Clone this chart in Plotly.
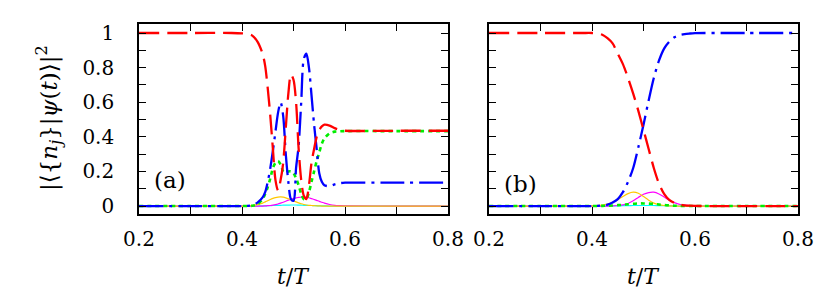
import plotly.graph_objects as go

# ---------------- data: panel (a) ----------------
t_a = [0.20, 0.30, 0.38, 0.40, 0.41, 0.42, 0.43, 0.44,
       0.445, 0.45, 0.455, 0.46, 0.465, 0.47, 0.475, 0.48, 0.485, 0.49,
       0.495, 0.50, 0.505, 0.51, 0.515, 0.52, 0.525, 0.53, 0.535, 0.54,
       0.545, 0.55, 0.555, 0.56,
       0.57, 0.58, 0.59, 0.60, 0.70, 0.80]
red_a = [1.0, 1.0, 1.0, 0.998, 0.995, 0.985, 0.95, 0.88,
         0.81, 0.68, 0.52, 0.33, 0.15, 0.09, 0.15, 0.25, 0.45, 0.65,
         0.76, 0.73, 0.60, 0.33, 0.15, 0.06, 0.04, 0.12, 0.25, 0.33,
         0.40, 0.44, 0.46, 0.47,
         0.465, 0.45, 0.44, 0.435, 0.435, 0.435]
blue_a = [0.0, 0.0, 0.0, 0.0, 0.001, 0.005, 0.02, 0.05,
          0.08, 0.14, 0.22, 0.32, 0.43, 0.54, 0.60, 0.52, 0.30, 0.14,
          0.04, 0.03, 0.22, 0.35, 0.60, 0.85, 0.88, 0.80, 0.64, 0.47,
          0.33, 0.19, 0.14, 0.12,
          0.115, 0.125, 0.132, 0.135, 0.135, 0.135]
green_a = [0.0, 0.0, 0.0, 0.0, 0.0, 0.002, 0.01, 0.04,
           0.07, 0.11, 0.16, 0.22, 0.25, 0.26, 0.24, 0.20, 0.19, 0.20,
           0.20, 0.19, 0.16, 0.12, 0.07, 0.04, 0.04, 0.08, 0.14, 0.20,
           0.26, 0.31, 0.36, 0.39,
           0.42, 0.43, 0.432, 0.433, 0.433, 0.433]
yellow_a = [0.0, 0.0, 0.0, 0.0, 0.001, 0.003, 0.008, 0.017,
            0.024, 0.031, 0.038, 0.044, 0.049, 0.052, 0.053, 0.051, 0.047, 0.042,
            0.036, 0.030, 0.024, 0.018, 0.013, 0.009, 0.006, 0.004, 0.003, 0.002,
            0.001, 0.001, 0.0, 0.0,
            0.0, 0.0, 0.0, 0.0, 0.0, 0.0]
magenta_a = [0.0, 0.0, 0.0, 0.0, 0.0, 0.0, 0.0, 0.0,
             0.001, 0.002, 0.003, 0.005, 0.008, 0.012, 0.017, 0.022, 0.028, 0.034,
             0.039, 0.044, 0.047, 0.050, 0.051, 0.052, 0.050, 0.048, 0.043, 0.038,
             0.033, 0.027, 0.022, 0.017,
             0.009, 0.004, 0.002, 0.001, 0.0, 0.0]
cyan_a = [0.0, 0.0, 0.0, 0.0, 0.0, 0.0, 0.0, 0.001,
          0.001, 0.002, 0.002, 0.003, 0.003, 0.004, 0.004, 0.005, 0.005, 0.005,
          0.006, 0.006, 0.006, 0.005, 0.005, 0.004, 0.004, 0.003, 0.003, 0.002,
          0.002, 0.001, 0.001, 0.001,
          0.0, 0.0, 0.0, 0.0, 0.0, 0.0]

# ---------------- data: panel (b) ----------------
t_b = [0.20, 0.30, 0.38, 0.40, 0.41, 0.42, 0.43, 0.44, 0.45, 0.46,
       0.47, 0.48, 0.49, 0.50, 0.51, 0.52, 0.53, 0.54, 0.55, 0.56,
       0.57, 0.58, 0.59, 0.60, 0.62, 0.65, 0.70, 0.80]
red_b = [1.0, 1.0, 1.0, 1.0, 0.998, 0.99, 0.97, 0.94, 0.88, 0.82,
         0.74, 0.65, 0.55, 0.44, 0.33, 0.22, 0.13, 0.07, 0.035, 0.018,
         0.008, 0.004, 0.002, 0.001, 0.0, 0.0, 0.0, 0.0]
blue_b = [0.0, 0.0, 0.0, 0.0, 0.001, 0.003, 0.008, 0.02, 0.04, 0.08,
          0.14, 0.22, 0.34, 0.47, 0.61, 0.74, 0.84, 0.91, 0.95, 0.975,
          0.988, 0.994, 0.997, 0.999, 1.0, 1.0, 1.0, 1.0]
yellow_b = [0.0, 0.0, 0.0, 0.001, 0.003, 0.006, 0.012, 0.022, 0.036, 0.055,
            0.072, 0.080, 0.074, 0.055, 0.034, 0.017, 0.008, 0.003, 0.001, 0.0,
            0.0, 0.0, 0.0, 0.0, 0.0, 0.0, 0.0, 0.0]
magenta_b = [0.0, 0.0, 0.0, 0.0, 0.0, 0.0, 0.0, 0.001, 0.003, 0.007,
             0.015, 0.030, 0.050, 0.068, 0.078, 0.080, 0.070, 0.052, 0.034, 0.020,
             0.010, 0.005, 0.002, 0.001, 0.0, 0.0, 0.0, 0.0]
green_b = [0.0, 0.0, 0.0, 0.0, 0.0, 0.001, 0.002, 0.003, 0.005, 0.007,
           0.010, 0.013, 0.015, 0.015, 0.014, 0.012, 0.009, 0.006, 0.004, 0.002,
           0.001, 0.0, 0.0, 0.0, 0.0, 0.0, 0.0, 0.0]
cyan_b = [0.0, 0.0, 0.0, 0.0, 0.0, 0.0, 0.0, 0.001, 0.001, 0.002,
          0.002, 0.003, 0.003, 0.003, 0.003, 0.003, 0.002, 0.002, 0.001, 0.001,
          0.0, 0.0, 0.0, 0.0, 0.0, 0.0, 0.0, 0.0]

x_ticks = [0.2, 0.4, 0.6, 0.8]
y_ticks = [0, 0.2, 0.4, 0.6, 0.8, 1]
y_tick_text = ["0", "0.2", "0.4", "0.6", "0.8", "1"]

FONT = "DejaVu Serif"

RED = "#ff0000"
BLUE = "#0000ff"
GREEN = "#00ee00"
YELLOW = "#ffc800"
MAGENTA = "#ff00ff"
CYAN = "#00ffff"

fig = go.Figure()


def add_set(t, cyan, magenta, yellow, green, blue, red, xa, ya):
    specs = [
        (cyan, CYAN, 1.2, "solid"),
        (magenta, MAGENTA, 1.2, "solid"),
        (yellow, YELLOW, 1.2, "solid"),
        (green, GREEN, 2.6, "4px,4px"),
        (blue, BLUE, 2.3, "24px,6px,3px,6px"),
        (red, RED, 2.3, "20px,8px"),
    ]
    for vals, col, w, dash in specs:
        fig.add_trace(go.Scatter(
            x=t, y=vals, mode="lines", xaxis=xa, yaxis=ya,
            line=dict(color=col, width=w, dash=dash, shape="spline", smoothing=0.8),
            showlegend=False, hoverinfo="skip"))


add_set(t_a, cyan_a, magenta_a, yellow_a, green_a, blue_a, red_a, "x", "y")
add_set(t_b, cyan_b, magenta_b, yellow_b, green_b, blue_b, red_b, "x2", "y2")

W, H = 823, 296
L, R, T, B = 131, 33, 16, 90
pw = W - L - R
dom_a = [0, (440 - 131) / pw]
dom_b = [(481 - 131) / pw, 1]

tfont = dict(family=FONT, size=20, color="black")

xcommon = dict(range=[0.2, 0.8], tickvals=x_ticks, ticks="inside", ticklen=7,
               tickwidth=1.2, tickcolor="black", mirror="allticks", showline=True,
               linecolor="black", linewidth=1.6, showgrid=False, zeroline=False,
               minor=dict(dtick=0.1, tick0=0.2, ticks="inside", ticklen=7,
                          tickwidth=1.2, tickcolor="black", showgrid=False),
               tickfont=tfont, ticklabelstandoff=6)
ycommon = dict(range=[-0.046, 1.052], tickvals=y_ticks, ticktext=y_tick_text,
               ticks="inside", ticklen=7, tickwidth=1.2, tickcolor="black",
               mirror="allticks", showline=True, linecolor="black", linewidth=1.6,
               showgrid=False, zeroline=False,
               minor=dict(dtick=0.1, tick0=0, ticks="inside", ticklen=7,
                          tickwidth=1.2, tickcolor="black", showgrid=False),
               tickfont=tfont)

fig.update_layout(
    width=W, height=H,
    margin=dict(l=L, r=R, t=T, b=B, pad=0),
    paper_bgcolor="white", plot_bgcolor="white",
    font=dict(family=FONT, color="black"),
    xaxis=dict(domain=dom_a, anchor="y", **xcommon),
    xaxis2=dict(domain=dom_b, anchor="y2", **xcommon),
    yaxis=dict(domain=[0, 1], anchor="x", ticklabelstandoff=19, **ycommon),
    yaxis2=dict(domain=[0, 1], anchor="x2", showticklabels=False, **ycommon),
    showlegend=False,
)

ph = H - T - B
annots = [
    dict(text="|⟨{<i>n<sub>j</sub></i>}|<i>ψ</i>(<i>t</i>)⟩|<sup>2</sup>",
         xref="paper", yref="paper", x=(40 - L) / pw, y=(H - B - 110) / ph,
         xanchor="center", yanchor="middle", textangle=-90, showarrow=False,
         font=dict(family=FONT, size=23, color="black")),
    dict(text="<i>t</i>/<i>T</i>", xref="paper", yref="paper",
         x=(dom_a[0] + dom_a[1]) / 2, y=-(268 - (H - B)) / ph,
         xanchor="center", yanchor="middle", showarrow=False,
         font=dict(family=FONT, size=22, color="black")),
    dict(text="<i>t</i>/<i>T</i>", xref="paper", yref="paper",
         x=(dom_b[0] + dom_b[1]) / 2, y=-(268 - (H - B)) / ph,
         xanchor="center", yanchor="middle", showarrow=False,
         font=dict(family=FONT, size=22, color="black")),
    dict(text="(a)", xref="x", yref="y", x=0.226, y=0.15,
         xanchor="left", yanchor="middle", showarrow=False,
         font=dict(family=FONT, size=23, color="black")),
    dict(text="(b)", xref="x2", yref="y2", x=0.226, y=0.13,
         xanchor="left", yanchor="middle", showarrow=False,
         font=dict(family=FONT, size=23, color="black")),
]
fig.update_layout(annotations=annots)

fig.write_html("out.html")
